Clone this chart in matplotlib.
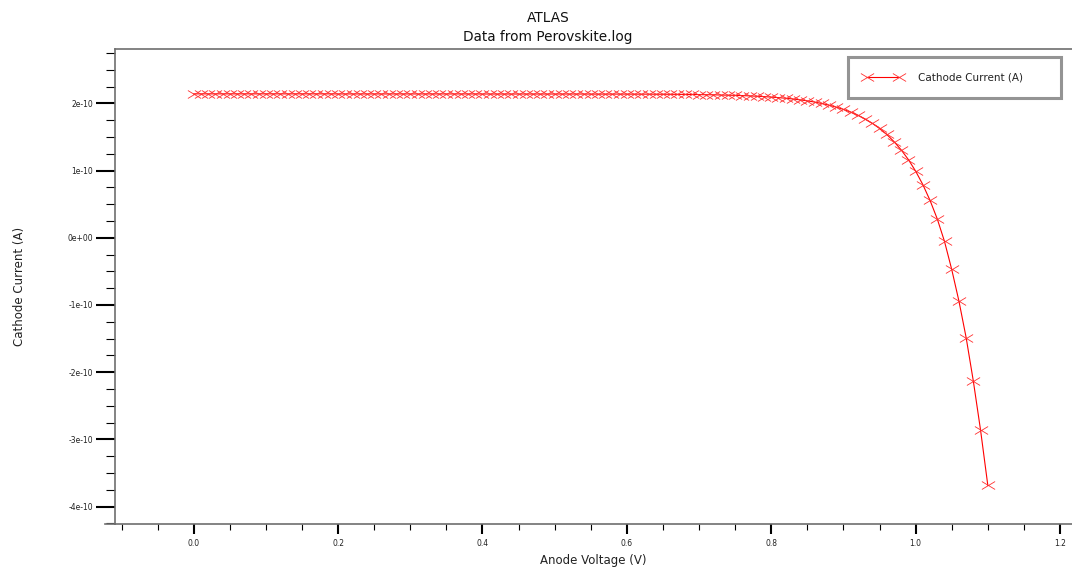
import matplotlib
matplotlib.use('Agg')
import matplotlib.pyplot as plt
from matplotlib.path import Path
from matplotlib.ticker import MultipleLocator, FuncFormatter

# ATLAS solar cell sweep (current in units of 1e-10 A)
anode_voltage = [
    0.00, 0.01, 0.02, 0.03, 0.04, 0.05, 0.06, 0.07, 0.08, 0.09,
    0.10, 0.11, 0.12, 0.13, 0.14, 0.15, 0.16, 0.17, 0.18, 0.19,
    0.20, 0.21, 0.22, 0.23, 0.24, 0.25, 0.26, 0.27, 0.28, 0.29,
    0.30, 0.31, 0.32, 0.33, 0.34, 0.35, 0.36, 0.37, 0.38, 0.39,
    0.40, 0.41, 0.42, 0.43, 0.44, 0.45, 0.46, 0.47, 0.48, 0.49,
    0.50, 0.51, 0.52, 0.53, 0.54, 0.55, 0.56, 0.57, 0.58, 0.59,
    0.60, 0.61, 0.62, 0.63, 0.64, 0.65, 0.66, 0.67, 0.68, 0.69,
    0.70, 0.71, 0.72, 0.73, 0.74, 0.75, 0.76, 0.77, 0.78, 0.79,
    0.80, 0.81, 0.82, 0.83, 0.84, 0.85, 0.86, 0.87, 0.88, 0.89,
    0.90, 0.91, 0.92, 0.93, 0.94, 0.95, 0.96, 0.97, 0.98, 0.99,
    1.00, 1.01, 1.02, 1.03, 1.04, 1.05, 1.06, 1.07, 1.08, 1.09,
    1.10,
]
cathode_current = [
    2.142, 2.142, 2.142, 2.142, 2.142, 2.142, 2.142, 2.142, 2.142, 2.142,
    2.142, 2.142, 2.142, 2.142, 2.142, 2.142, 2.142, 2.142, 2.142, 2.142,
    2.141, 2.141, 2.141, 2.141, 2.141, 2.141, 2.141, 2.141, 2.141, 2.141,
    2.141, 2.141, 2.141, 2.141, 2.141, 2.141, 2.141, 2.141, 2.141, 2.141,
    2.140, 2.140, 2.140, 2.140, 2.140, 2.140, 2.140, 2.140, 2.140, 2.140,
    2.140, 2.140, 2.140, 2.140, 2.140, 2.139, 2.139, 2.139, 2.139, 2.139,
    2.139, 2.138, 2.138, 2.138, 2.137, 2.137, 2.136, 2.135, 2.134, 2.133,
    2.131, 2.129, 2.128, 2.125, 2.123, 2.120, 2.116, 2.112, 2.107, 2.101,
    2.094, 2.086, 2.077, 2.066, 2.053, 2.038, 2.020, 1.999, 1.974, 1.945,
    1.911, 1.871, 1.824, 1.769, 1.704, 1.627, 1.538, 1.432, 1.308, 1.163,
    0.992, 0.791, 0.555, 0.280, -0.055, -0.472, -0.943, -1.488, -2.138, -2.868,
    -3.686,
]
current_amps = [c * 1e-10 for c in cathode_current]

text_color = '#222222'
frame_color = '#6e6e6e'

fig = plt.figure(figsize=(10.72, 5.69), dpi=100)
ax = fig.add_axes([0.1073, 0.0791, 0.8927, 0.8348])

# flat x marker like the ATLAS plot
xmark = Path([(-1, -0.6), (1, 0.6), (-1, 0.6), (1, -0.6)],
             [Path.MOVETO, Path.LINETO, Path.MOVETO, Path.LINETO])

ax.plot(anode_voltage, current_amps, color='#ff0000', lw=0.8,
        marker=xmark, markersize=9.5, markeredgewidth=0.6,
        markeredgecolor='#ff3030', label='Cathode Current (A)')

ax.set_xlim(-0.109, 1.2166)
ax.set_ylim(-4.26e-10, 2.81e-10)

ax.xaxis.set_major_locator(MultipleLocator(0.2))
ax.xaxis.set_minor_locator(MultipleLocator(0.05))
ax.yaxis.set_major_locator(MultipleLocator(1e-10))
ax.yaxis.set_minor_locator(MultipleLocator(0.25e-10))
ax.xaxis.set_major_formatter(FuncFormatter(lambda v, p: f"{v:.1f}"))
ax.yaxis.set_major_formatter(FuncFormatter(lambda v, p: f"{v:.0e}"))

ax.tick_params(axis='y', which='major', length=14, width=1.5, pad=2,
               labelsize=5.5, labelcolor=text_color)
ax.tick_params(axis='y', which='minor', length=6.5, width=0.8)
ax.tick_params(axis='x', which='major', length=7.5, width=1.5, pad=3,
               labelsize=5.5, labelcolor=text_color)
ax.tick_params(axis='x', which='minor', length=4.5, width=0.8)

for side in ['left', 'bottom', 'top']:
    ax.spines[side].set_color(frame_color)
    ax.spines[side].set_linewidth(1.2)
ax.spines['right'].set_visible(False)
# the x axis line runs a little past the y axis
ax.plot([-0.01, 0], [0, 0], transform=ax.transAxes, color=frame_color,
        lw=1.2, clip_on=False)

ax.set_xlabel('Anode Voltage (V)', fontsize=8.5, color=text_color)
ax.set_ylabel('Cathode Current (A)', fontsize=8.5, color=text_color)
ax.xaxis.set_label_coords(0.5, -0.063)
ax.yaxis.set_label_coords(-0.093, 0.5)

fig.text(548 / 1072, 1 - 18 / 569, 'ATLAS', ha='center', va='center',
         fontsize=9.8, color='#111111')
fig.text(548 / 1072, 1 - 37 / 569, 'Data from Perovskite.log', ha='center',
         va='center', fontsize=9.8, color='#111111')

# legend box spans 848..1061 px across, content kept on the left
leg = ax.legend(loc='upper left', bbox_to_anchor=(0.766, 0.9838, 0.2226, 0.0),
                mode='expand', fontsize=7.5, frameon=True, fancybox=False,
                numpoints=2, handlelength=3.65, borderpad=1.5,
                handletextpad=1.6, borderaxespad=0)
leg.get_frame().set_edgecolor('#7a7a7a')
leg.get_frame().set_linewidth(2.2)
for t in leg.get_texts():
    t.set_color(text_color)

fig.savefig('out.png', dpi=100)
